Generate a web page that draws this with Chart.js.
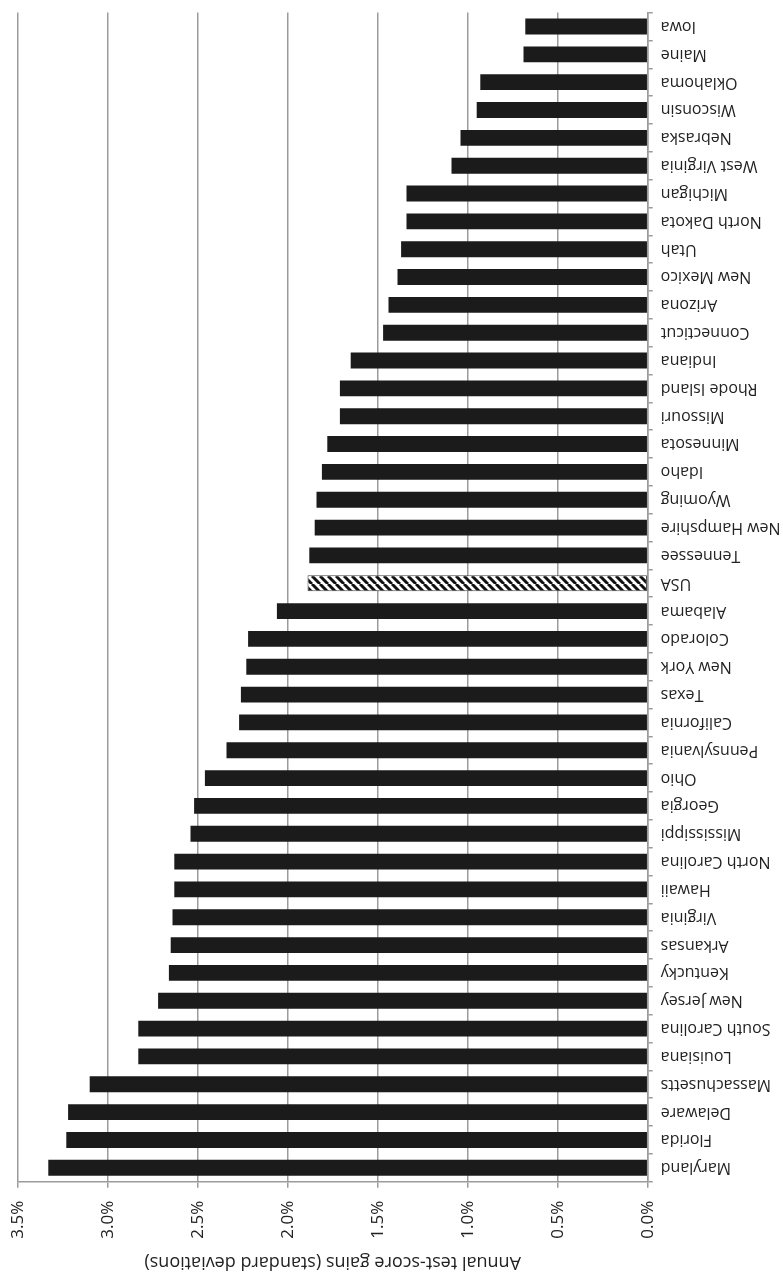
<!DOCTYPE html>
<html lang="en">
<head>
<meta charset="UTF-8">
<title>Annual test-score gains by state</title>
<script src="https://cdn.jsdelivr.net/npm/chart.js@4.4.0/dist/chart.umd.min.js"></script>
<style>
    html, body { margin: 0; padding: 0; background: #fff; overflow: hidden; }
    #gains-chart { display: block; }
</style>
</head>
<body>
<canvas id="gains-chart" width="783" height="1276"></canvas>
<script>
// Data, in the order of the original chart (largest gain first)
const states = [
    'Maryland', 'Florida', 'Delaware', 'Massachusetts', 'Louisiana', 'South Carolina',
    'New Jersey', 'Kentucky', 'Arkansas', 'Virginia', 'Hawaii', 'North Carolina',
    'Mississippi', 'Georgia', 'Ohio', 'Pennsylvania', 'California', 'Texas',
    'New York', 'Colorado', 'Alabama', 'USA', 'Tennessee', 'New Hampshire',
    'Wyoming', 'Idaho', 'Minnesota', 'Missouri', 'Rhode Island', 'Indiana',
    'Connecticut', 'Arizona', 'New Mexico', 'Utah', 'North Dakota', 'Michigan',
    'West Virginia', 'Nebraska', 'Wisconsin', 'Oklahoma', 'Maine', 'Iowa'
];
const gains = [
    3.33, 3.23, 3.22, 3.10, 2.83, 2.83,
    2.72, 2.66, 2.65, 2.64, 2.63, 2.63,
    2.54, 2.52, 2.46, 2.34, 2.27, 2.26,
    2.23, 2.22, 2.06, 1.89, 1.88, 1.85,
    1.84, 1.81, 1.78, 1.71, 1.71, 1.65,
    1.47, 1.44, 1.39, 1.37, 1.34, 1.34,
    1.09, 1.04, 0.95, 0.93, 0.69, 0.68
];
const tickValues = [0, 0.5, 1.0, 1.5, 2.0, 2.5, 3.0, 3.5];
const axisTitle = 'Annual test-score gains (standard deviations)';
const highlight = 'USA';

const textColor = '#222';
const gridColor = '#9b9b9b';
const barColor = '#1b1b1b';

Chart.defaults.font.family = '"Open Sans", sans-serif';
Chart.defaults.color = textColor;

const canvas = document.getElementById('gains-chart');
const ctx = canvas.getContext('2d');

// diagonal hatch for the USA bar
function makeHatch() {
    const size = 8;
    const c = document.createElement('canvas');
    c.width = size;
    c.height = size;
    const g = c.getContext('2d');
    g.fillStyle = '#fff';
    g.fillRect(0, 0, size, size);
    g.strokeStyle = '#111';
    g.lineWidth = 3;
    g.beginPath();
    for (let k = -1; k <= 1; k++) {
        g.moveTo(k * size, 0);
        g.lineTo(k * size + size, size);
    }
    g.stroke();
    return ctx.createPattern(c, 'repeat');
}
const hatch = makeHatch();

// the whole figure is printed upside down: state names and the axis title
// are drawn rotated by 180 degrees at the positions of the library's ticks
const flippedText = {
    id: 'flippedText',
    afterDraw(chart) {
        const c = chart.ctx;
        const yScale = chart.scales.y;
        const area = chart.chartArea;
        c.save();
        c.fillStyle = textColor;
        c.font = '16px "Open Sans", sans-serif';
        c.textAlign = 'right';
        c.textBaseline = 'middle';
        yScale.ticks.forEach((t, i) => {
            const py = yScale.getPixelForTick(i);
            c.save();
            c.translate(yScale.left + 13, py);
            c.rotate(Math.PI);
            c.fillText(yScale.getLabelForValue(t.value), 0, 0);
            c.restore();
        });
        c.font = '18px "Open Sans", sans-serif';
        c.textAlign = 'center';
        c.save();
        c.translate((area.left + area.right) / 2, chart.height - 14);
        c.rotate(Math.PI);
        c.fillText(axisTitle, 0, 0);
        c.restore();
        c.restore();
    }
};

new Chart(ctx, {
    type: 'bar',
    data: {
        labels: states,
        datasets: [{
            data: gains,
            backgroundColor: states.map(s => s === highlight ? hatch : barColor),
            borderColor: states.map(s => s === highlight ? '#444' : barColor),
            borderWidth: states.map(s => s === highlight ? 1 : 0),
            borderSkipped: false,
            barPercentage: 0.57,
            categoryPercentage: 1.0
        }]
    },
    options: {
        indexAxis: 'y',
        responsive: false,
        animation: false,
        devicePixelRatio: 1,
        layout: { padding: { left: 17.7, top: 4, right: 0, bottom: 0 } },
        scales: {
            x: {
                type: 'linear',
                position: 'bottom',
                reverse: true,
                min: 0,
                max: 3.5,
                afterBuildTicks: scale => {
                    scale.ticks = tickValues.map(v => ({ value: v }));
                },
                afterFit: scale => { scale.height = 94.3; },
                ticks: {
                    autoSkip: false,
                    minRotation: 90,
                    maxRotation: 90,
                    padding: 13,
                    color: textColor,
                    font: { size: 17 },
                    callback: v => Number(v).toFixed(1) + '%'
                },
                grid: { color: gridColor, lineWidth: 1.5, tickLength: 6 },
                border: { color: gridColor, width: 1.5 }
            },
            y: {
                position: 'right',
                reverse: true,
                afterFit: scale => { scale.width = 135.3; },
                ticks: {
                    autoSkip: false,
                    color: 'rgba(0,0,0,0)',
                    font: { size: 16 }
                },
                grid: { drawOnChartArea: false, color: gridColor, lineWidth: 1.5, tickLength: 5 },
                border: { color: gridColor, width: 1.5 }
            }
        },
        plugins: {
            legend: { display: false },
            tooltip: { enabled: false }
        }
    },
    plugins: [flippedText]
});
</script>
</body>
</html>
